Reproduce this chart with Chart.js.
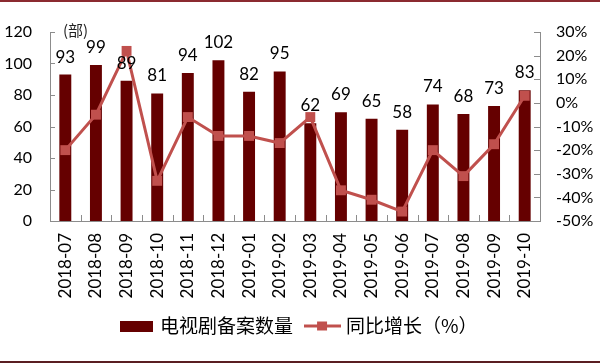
<!DOCTYPE html>
<html>
<head>
<meta charset="utf-8">
<script src="https://cdn.jsdelivr.net/npm/chart.js@4.4.0/dist/chart.umd.min.js"></script>
<style>
  html, body { margin: 0; padding: 0; background: #fff; }
  #wrap { position: relative; width: 600px; height: 364px; }
  #myChart { display: block; }
  .rule { position: absolute; left: 0; width: 600px; height: 2px; }
  #topRule { top: 0; background: #8b2a30; }
  #bottomRule { top: 361px; background: #5a1e22; }
</style>
</head>
<body>
<div id="wrap">
  <canvas id="myChart" width="600" height="364"></canvas>
  <div class="rule" id="topRule"></div>
  <div class="rule" id="bottomRule"></div>
</div>
<script>
const months = ['2018-07', '2018-08', '2018-09', '2018-10', '2018-11', '2018-12',
                '2019-01', '2019-02', '2019-03', '2019-04', '2019-05', '2019-06',
                '2019-07', '2019-08', '2019-09', '2019-10'];
const filings = [93, 99, 89, 81, 94, 102, 82, 95, 62, 69, 65, 58, 74, 68, 73, 83];
const yoyGrowth = [-20, -5, 22, -33, -6, -14, -14, -17, -6, -37, -41, -46, -20, -31, -17.5, 3];
const legendNames = ['电视剧备案数量', '同比增长（%）'];
const unitLabel = '(部)';

const barColor = '#650000';
const lineColor = '#c0504d';
const axisColor = '#8c8c8c';
const tickFont = { family: 'Lato', size: 16 };

function barSwatch() {
    const c = document.createElement('canvas');
    c.width = 33; c.height = 11;
    const g = c.getContext('2d');
    g.fillStyle = barColor;
    g.fillRect(0, 0, 33, 11);
    return c;
}

function lineSwatch() {
    const c = document.createElement('canvas');
    c.width = 37; c.height = 11;
    const g = c.getContext('2d');
    g.fillStyle = lineColor;
    g.fillRect(0, 4, 37, 3);
    g.fillRect(13, 1, 10, 9);
    return c;
}

// value labels above the bars
const valueLabels = {
    id: 'valueLabels',
    afterDatasetsDraw(chart) {
        const ctx = chart.ctx;
        const meta = chart.getDatasetMeta(0);
        ctx.save();
        ctx.font = '17px Lato';
        ctx.fillStyle = '#000';
        ctx.textAlign = 'center';
        ctx.textBaseline = 'alphabetic';
        meta.data.forEach((bar, i) => {
            ctx.fillText(filings[i], bar.x, bar.y - 12);
        });
        ctx.restore();
    }
};

// short tick marks pointing into the plot, plus the unit label
const innerTicks = {
    id: 'innerTicks',
    afterDraw(chart) {
        const ctx = chart.ctx;
        const area = chart.chartArea;
        const { x, y, y1 } = chart.scales;
        ctx.save();
        ctx.strokeStyle = axisColor;
        ctx.lineWidth = 1;
        ctx.beginPath();
        y.ticks.forEach(t => {
            const py = Math.round(y.getPixelForValue(t.value)) + 0.5;
            ctx.moveTo(area.left, py);
            ctx.lineTo(area.left + 5, py);
        });
        y1.ticks.forEach(t => {
            const py = Math.round(y1.getPixelForValue(t.value)) + 0.5;
            ctx.moveTo(area.right, py);
            ctx.lineTo(area.right - 6, py);
        });
        for (let i = 1; i < months.length; i++) {
            const px = Math.round((x.getPixelForValue(i - 1) + x.getPixelForValue(i)) / 2) + 0.5;
            ctx.moveTo(px, area.bottom);
            ctx.lineTo(px, area.bottom - 6);
        }
        ctx.stroke();

        ctx.font = '15px "Noto Sans CJK SC"';
        ctx.fillStyle = '#222';
        ctx.textAlign = 'left';
        ctx.textBaseline = 'middle';
        ctx.fillText(unitLabel, area.left + 13, area.top - 2);
        ctx.restore();
    }
};

const ctx = document.getElementById('myChart').getContext('2d');
const chart = new Chart(ctx, {
    data: {
        labels: months,
        datasets: [{
            type: 'bar',
            label: legendNames[0],
            data: filings,
            backgroundColor: barColor,
            borderWidth: 0,
            barPercentage: 0.39,
            categoryPercentage: 1,
            yAxisID: 'y',
            order: 2
        }, {
            type: 'line',
            label: legendNames[1],
            data: yoyGrowth,
            borderColor: lineColor,
            backgroundColor: lineColor,
            borderWidth: 3,
            pointStyle: 'rect',
            pointRadius: 7,
            pointBorderWidth: 0,
            tension: 0,
            yAxisID: 'y1',
            order: 1
        }]
    },
    options: {
        responsive: false,
        animation: false,
        layout: { padding: { top: 32, left: 0, right: 0, bottom: 18.5 } },
        plugins: {
            tooltip: { enabled: false },
            legend: {
                position: 'bottom',
                labels: {
                    font: { family: '"Noto Sans CJK SC"', size: 19 },
                    color: '#000',
                    usePointStyle: true,
                    pointStyleWidth: 28,
                    boxHeight: 11,
                    padding: 15.5,
                    generateLabels() {
                        return legendNames.map((name, i) => ({
                            text: name,
                            pointStyle: i === 0 ? barSwatch() : lineSwatch(),
                            fillStyle: i === 0 ? barColor : lineColor,
                            strokeStyle: i === 0 ? barColor : lineColor,
                            lineWidth: 0,
                            hidden: false,
                            datasetIndex: i
                        }));
                    }
                }
            }
        },
        scales: {
            x: {
                offset: true,
                grid: { display: false, drawTicks: false },
                border: { display: true, color: axisColor },
                ticks: {
                    font: { family: 'Lato', size: 17 },
                    color: '#000',
                    minRotation: 90,
                    maxRotation: 90,
                    autoSkip: false,
                    padding: 12
                },
                afterFit(scale) { scale.height = 80; }
            },
            y: {
                position: 'left',
                min: 0,
                max: 120,
                grid: { display: false, drawTicks: false },
                border: { display: true, color: axisColor },
                ticks: { stepSize: 20, font: tickFont, color: '#000', padding: 18, autoSkip: false },
                afterFit(scale) { scale.width = 50; }
            },
            y1: {
                position: 'right',
                min: -50,
                max: 30,
                grid: { display: false, drawTicks: false },
                border: { display: true, color: axisColor },
                ticks: {
                    stepSize: 10,
                    font: tickFont,
                    color: '#000',
                    padding: 16,
                    autoSkip: false,
                    callback: v => v + '%'
                },
                afterFit(scale) { scale.width = 60; }
            }
        }
    },
    plugins: [valueLabels, innerTicks]
});
</script>
</body>
</html>
